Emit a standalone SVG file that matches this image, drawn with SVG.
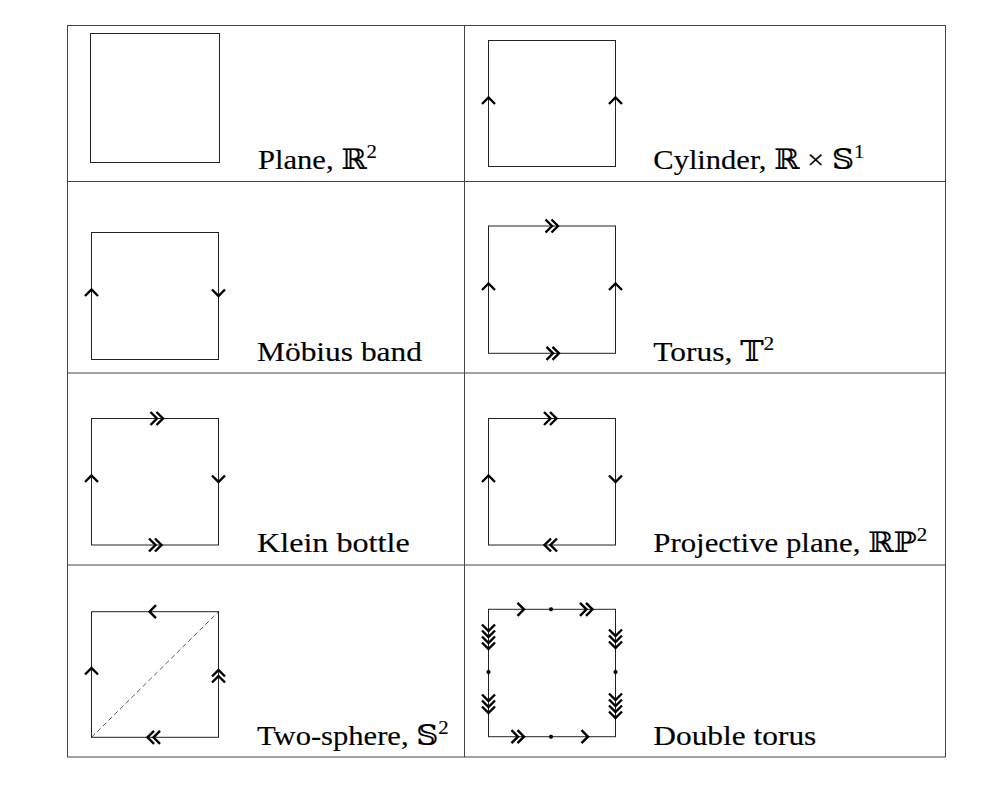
<svg xmlns="http://www.w3.org/2000/svg" xmlns:xlink="http://www.w3.org/1999/xlink" width="996" height="792" viewBox="0 0 996 792">
<style>
.grid{stroke:#444;stroke-width:1;fill:none}
.sq{stroke:#222;stroke-width:1;fill:none}
.dash{stroke:#333;stroke-width:0.8;stroke-dasharray:5 3;fill:none}
.arr{stroke:#000;stroke-width:2.4;fill:none;stroke-linejoin:miter}
.dot{fill:#000}
</style>
<defs>
<path id="a1" d="M-6.5,-6.5 L0,0 L-6.5,6.5"/>
<path id="a2" d="M-6.5,-6.5 L0,0 L-6.5,6.5 M-12.5,-6.5 L-6,0 L-12.5,6.5"/>
<path id="a3" d="M-6.5,-6.5 L0,0 L-6.5,6.5 M-12.5,-6.5 L-6,0 L-12.5,6.5 M-18.5,-6.5 L-12,0 L-18.5,6.5"/>
<path id="a4" d="M-6.5,-6.5 L0,0 L-6.5,6.5 M-12.5,-6.5 L-6,0 L-12.5,6.5 M-18.5,-6.5 L-12,0 L-18.5,6.5 M-24.5,-6.5 L-18,0 L-24.5,6.5"/>
</defs>
<rect width="996" height="792" fill="#fff"/>
<g id="table-grid" class="grid">
<rect x="67.5" y="25.5" width="878" height="731.5"/>
<line x1="464.5" y1="25.5" x2="464.5" y2="757"/>
<line x1="67.5" y1="181.5" x2="945.5" y2="181.5"/>
<line x1="67.5" y1="373" x2="945.5" y2="373"/>
<line x1="67.5" y1="565" x2="945.5" y2="565"/>
</g>
<g id="connectors"></g>
<g font-family="Liberation Serif, DejaVu Serif, serif" font-size="28" fill="#000" stroke="#000" stroke-width="0.15">
<g id="plane">
<rect class="sq" x="90.5" y="33.5" width="129" height="129"/>
<text x="258" y="169" textLength="119" lengthAdjust="spacingAndGlyphs">Plane, ℝ<tspan font-size="19" dy="-11">2</tspan></text>
</g>
<g id="cylinder">
<rect class="sq" x="488.5" y="40.5" width="127" height="126"/>
<g class="arr">
<use xlink:href="#a1" transform="translate(488.5,97.5) rotate(-90)"/>
<use xlink:href="#a1" transform="translate(615.5,97.5) rotate(-90)"/>
</g>
<text x="653.3" y="169" textLength="211" lengthAdjust="spacingAndGlyphs">Cylinder, ℝ × 𝕊<tspan font-size="19" dy="-11">1</tspan></text>
</g>
<g id="mobius">
<rect class="sq" x="91.5" y="232.5" width="127" height="127"/>
<g class="arr">
<use xlink:href="#a1" transform="translate(91.5,289.5) rotate(-90)"/>
<use xlink:href="#a1" transform="translate(218.5,296) rotate(90)"/>
</g>
<text x="257" y="361" textLength="165" lengthAdjust="spacingAndGlyphs">Möbius band</text>
</g>
<g id="torus">
<rect class="sq" x="488.5" y="226" width="127" height="127.3"/>
<g class="arr">
<use xlink:href="#a1" transform="translate(488.5,283.5) rotate(-90)"/>
<use xlink:href="#a1" transform="translate(615.5,283.5) rotate(-90)"/>
<use xlink:href="#a2" transform="translate(558,226)"/>
<use xlink:href="#a2" transform="translate(559,353.3)"/>
</g>
<text x="653.3" y="361" textLength="121" lengthAdjust="spacingAndGlyphs">Torus, 𝕋<tspan font-size="19" dy="-11">2</tspan></text>
</g>
<g id="klein">
<rect class="sq" x="91.5" y="418.5" width="127" height="126.5"/>
<g class="arr">
<use xlink:href="#a1" transform="translate(91.5,475.5) rotate(-90)"/>
<use xlink:href="#a1" transform="translate(218.5,482) rotate(90)"/>
<use xlink:href="#a2" transform="translate(163,418.5)"/>
<use xlink:href="#a2" transform="translate(161.5,545)"/>
</g>
<text x="257" y="552" textLength="152.7" lengthAdjust="spacingAndGlyphs">Klein bottle</text>
</g>
<g id="projective">
<rect class="sq" x="488.5" y="418.5" width="127" height="126.5"/>
<g class="arr">
<use xlink:href="#a1" transform="translate(488.5,475.5) rotate(-90)"/>
<use xlink:href="#a1" transform="translate(615.5,482) rotate(90)"/>
<use xlink:href="#a2" transform="translate(556.5,418.5)"/>
<use xlink:href="#a2" transform="translate(544.5,545) rotate(180)"/>
</g>
<text x="653.3" y="552" textLength="274" lengthAdjust="spacingAndGlyphs">Projective plane, ℝℙ<tspan font-size="19" dy="-11">2</tspan></text>
</g>
<g id="two-sphere">
<rect class="sq" x="91.5" y="611.7" width="127" height="125.6"/>
<line class="dash" x1="91.5" y1="737.3" x2="218.5" y2="611.7"/>
<g class="arr">
<use xlink:href="#a1" transform="translate(149.5,611.7) rotate(180)"/>
<use xlink:href="#a2" transform="translate(147.5,737.3) rotate(180)"/>
<use xlink:href="#a1" transform="translate(91.5,668) rotate(-90)"/>
<use xlink:href="#a2" transform="translate(218.5,670) rotate(-90)"/>
</g>
<text x="257" y="745" textLength="191.7" lengthAdjust="spacingAndGlyphs">Two-sphere, 𝕊<tspan font-size="19" dy="-11">2</tspan></text>
</g>
<g id="double-torus">
<rect class="sq" x="488.5" y="609.3" width="127" height="127.4"/>
<g class="arr">
<use xlink:href="#a1" transform="translate(524,609.3)"/>
<use xlink:href="#a2" transform="translate(592.5,609.3)"/>
<use xlink:href="#a2" transform="translate(524,736.7)"/>
<use xlink:href="#a1" transform="translate(588,736.7)"/>
<use xlink:href="#a4" transform="translate(488.5,649) rotate(90)"/>
<use xlink:href="#a3" transform="translate(488.5,713) rotate(90)"/>
<use xlink:href="#a3" transform="translate(615.5,648) rotate(90)"/>
<use xlink:href="#a4" transform="translate(615.5,718) rotate(90)"/>
</g>
<circle class="dot" cx="551" cy="609.3" r="2"/>
<circle class="dot" cx="551" cy="736.7" r="2"/>
<circle class="dot" cx="488.5" cy="672" r="2"/>
<circle class="dot" cx="615.5" cy="672" r="2"/>
<text x="653.3" y="745" textLength="163" lengthAdjust="spacingAndGlyphs">Double torus</text>
</g>
</g>
</svg>
